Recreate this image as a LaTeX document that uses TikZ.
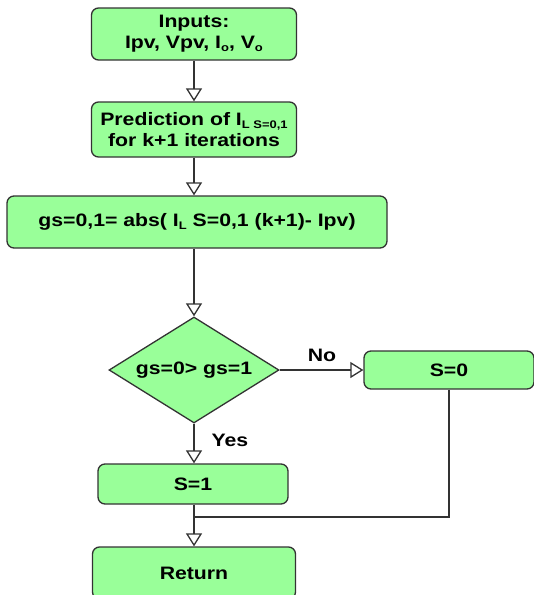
\documentclass[tikz,border=0pt]{standalone}
\usepackage{fontspec}
\setmainfont{Liberation Sans}[FakeStretch=1.18]
\usetikzlibrary{shapes.geometric,arrows.meta}
\definecolor{boxgreen}{HTML}{99FF99}
\definecolor{edgegray}{HTML}{333333}
\newcommand{\lowsub}[1]{\raisebox{-0.3ex}{\fontsize{11}{11}\selectfont #1}}
\begin{document}
\begin{tikzpicture}[x=1pt,y=-1pt,
  every node/.style={font=\bfseries\fontsize{18}{21}\selectfont},
  proc/.style={draw=edgegray, fill=boxgreen, line width=1.3pt, rounded corners=7pt, align=center, inner sep=0pt},
  decis/.style={diamond, draw=edgegray, fill=boxgreen, line width=1.3pt, inner sep=0pt},
  flow/.style={draw=edgegray, line width=1.3pt, -{Triangle[open, length=13pt, width=16pt]}},
  plain/.style={draw=edgegray, line width=1.3pt}]
\useasboundingbox (0,0) rectangle (534,595);
\node[proc, minimum width=205pt, minimum height=52pt] (inp) at (194,34) {Inputs:\\Ipv, Vpv, I\lowsub{o}, V\lowsub{o}};
\node[proc, minimum width=205pt, minimum height=55pt] (pred) at (194,129.5) {Prediction of I\lowsub{L S=0,1}\\for k+1 iterations};
\node[proc, minimum width=380pt, minimum height=52pt] (calc) at (197,222) {gs=0,1= abs( I\lowsub{L} S=0,1 (k+1)- Ipv)};
\node[decis, minimum width=170pt, minimum height=106pt] (dec) at (194,370) {};
\node (dectext) at (194,370) {gs=0> gs=1};
\node[proc, minimum width=170pt, minimum height=38pt] (s0) at (449,370) {S=0};
\node[proc, minimum width=190pt, minimum height=40pt] (s1) at (193,484) {S=1};
\node[proc, minimum width=203pt, minimum height=52pt] (ret) at (194,573) {Return};
\node (no) at (322,355) {No};
\node (yes) at (230,440) {Yes};
\coordinate (mj) at (194,517);
\draw[flow] (inp) -- (pred);
\draw[flow] (pred) -- (pred |- calc.north);
\draw[flow] (calc.south -| dec.north) -- (dec.north);
\draw[flow] (dec.east) -- (s0.west);
\draw[flow] (dec.south) -- (dec.south |- s1.north);
\draw[flow] (s1.south -| ret.north) -- (ret.north);
\draw[plain] (s0.south) |- (mj);
\end{tikzpicture}
\end{document}
